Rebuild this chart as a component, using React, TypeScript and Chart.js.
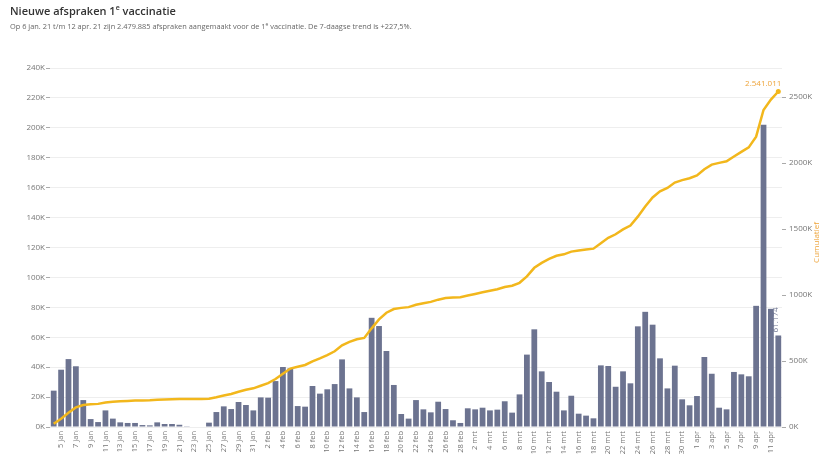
import React, { useEffect, useRef } from "react";
import { Chart, registerables } from "chart.js";

Chart.register(...registerables);

// ---- data ----
const categories: string[] = [
  "4 jan", "5 jan", "6 jan", "7 jan", "8 jan", "9 jan", "10 jan", "11 jan", "12 jan", "13 jan",
  "14 jan", "15 jan", "16 jan", "17 jan", "18 jan", "19 jan", "20 jan", "21 jan", "22 jan", "23 jan",
  "24 jan", "25 jan", "26 jan", "27 jan", "28 jan", "29 jan", "30 jan", "31 jan",
  "1 feb", "2 feb", "3 feb", "4 feb", "5 feb", "6 feb", "7 feb", "8 feb", "9 feb", "10 feb",
  "11 feb", "12 feb", "13 feb", "14 feb", "15 feb", "16 feb", "17 feb", "18 feb", "19 feb", "20 feb",
  "21 feb", "22 feb", "23 feb", "24 feb", "25 feb", "26 feb", "27 feb", "28 feb",
  "1 mrt", "2 mrt", "3 mrt", "4 mrt", "5 mrt", "6 mrt", "7 mrt", "8 mrt", "9 mrt", "10 mrt",
  "11 mrt", "12 mrt", "13 mrt", "14 mrt", "15 mrt", "16 mrt", "17 mrt", "18 mrt", "19 mrt", "20 mrt",
  "21 mrt", "22 mrt", "23 mrt", "24 mrt", "25 mrt", "26 mrt", "27 mrt", "28 mrt", "29 mrt", "30 mrt",
  "31 mrt",
  "1 apr", "2 apr", "3 apr", "4 apr", "5 apr", "6 apr", "7 apr", "8 apr", "9 apr", "10 apr",
  "11 apr", "12 apr",
];

// new appointments per day, in thousands
const dailyK: number[] = [
  24.3, 38.3, 45.4, 40.6, 18.0, 5.3, 3.3, 11.1, 5.6, 3.1,
  2.7, 2.7, 1.3, 1.1, 3.1, 2.0, 2.0, 1.5, 0.5, 0,
  0, 2.9, 10.0, 13.8, 12.0, 16.7, 14.7, 11.1,
  19.8, 19.6, 30.7, 40.1, 39.2, 14.0, 13.6, 27.4, 22.3, 25.2,
  28.7, 45.2, 25.8, 19.8, 10.0, 73.0, 67.5, 50.8, 28.1, 8.7,
  5.6, 18.0, 11.8, 9.8, 16.9, 12.0, 4.5, 2.7,
  12.5, 11.8, 12.9, 11.1, 11.6, 17.2, 9.6, 21.8, 48.4, 65.3,
  37.2, 30.1, 23.6, 11.1, 20.9, 8.9, 7.6, 5.8, 41.2, 40.8,
  26.9, 37.2, 29.2, 67.3, 77.0, 68.4, 45.9, 25.8, 41.0, 18.5,
  14.5,
  20.7, 46.8, 35.6, 12.9, 11.8, 36.8, 35.2, 33.9, 81.0, 202.0,
  79.0, 61.174,
];

// cumulative appointments (running total of the daily values), in thousands
const cumulativeK: number[] = dailyK.reduce<number[]>((acc, v) => {
  acc.push((acc.length ? acc[acc.length - 1] : 0) + v);
  return acc;
}, []);

const leftMaxK = 240;
const leftStepK = 20;
const rightMaxK = 2720;
const rightTicksK: number[] = [0, 500, 1000, 1500, 2000, 2500];

const titleText = "Nieuwe afspraken 1";
const subtitleText =
  "Op 6 jan. 21 t/m 12 apr. 21 zijn 2.479.885 afspraken aangemaakt voor de 1";
const subtitleTail = " vaccinatie. De 7-daagse trend is +227,5%.";
const finalLabel = "2.541.011";
const lastBarLabel = "61.174";
const rightAxisTitle = "Cumulatief";

// ---- styles ----
const FONT = '"Open Sans", "Noto Sans", sans-serif';
const BAR_COLOR = "#6c7390";
const LINE_COLOR = "#f2b71c";
const ORANGE = "#eea43a";
const TICK_COLOR = "#777";

const annotatePlugin = {
  id: "annotate",
  afterDatasetsDraw(chart: any) {
    const ctx = chart.ctx as CanvasRenderingContext2D;
    const barMeta = chart.getDatasetMeta(0);
    const lineMeta = chart.getDatasetMeta(1);
    const lp = lineMeta.data[lineMeta.data.length - 1];
    const bp = barMeta.data[barMeta.data.length - 1];
    ctx.save();
    ctx.font = `8px ${FONT}`;
    ctx.fillStyle = ORANGE;
    ctx.textAlign = "right";
    ctx.textBaseline = "bottom";
    ctx.fillText(finalLabel, lp.x + 3, lp.y - 4);
    ctx.restore();

    ctx.save();
    ctx.font = `8px ${FONT}`;
    ctx.fillStyle = BAR_COLOR;
    ctx.translate(bp.x - 3, bp.y - 3);
    ctx.rotate(-Math.PI / 2);
    ctx.textAlign = "left";
    ctx.textBaseline = "middle";
    ctx.fillText(lastBarLabel, 0, 0);
    ctx.restore();

    const area = chart.chartArea;
    ctx.save();
    ctx.font = `8px ${FONT}`;
    ctx.fillStyle = ORANGE;
    ctx.translate(817, (area.top + area.bottom) / 2 - 5);
    ctx.rotate(-Math.PI / 2);
    ctx.textAlign = "center";
    ctx.textBaseline = "middle";
    ctx.fillText(rightAxisTitle, 0, 0);
    ctx.restore();
  },
};

export default function App() {
  const canvasRef = useRef<HTMLCanvasElement | null>(null);

  useEffect(() => {
    document.body.style.margin = "0";
    const canvas = canvasRef.current;
    if (!canvas) return;
    const chart = new Chart(canvas, {
      type: "bar",
      data: {
        labels: categories,
        datasets: [
          {
            type: "bar",
            label: "Nieuwe afspraken",
            data: dailyK,
            backgroundColor: BAR_COLOR,
            barPercentage: 0.78,
            categoryPercentage: 1.0,
            yAxisID: "y",
            order: 2,
          },
          {
            type: "line",
            label: "Cumulatief",
            data: cumulativeK,
            borderColor: LINE_COLOR,
            backgroundColor: LINE_COLOR,
            borderWidth: 2.5,
            tension: 0,
            pointRadius: (c: any) => (c.dataIndex === cumulativeK.length - 1 ? 2.5 : 0),
            pointBorderWidth: 0,
            yAxisID: "y1",
            order: 1,
          },
        ] as any,
      },
      options: {
        responsive: false,
        animation: false,
        devicePixelRatio: 1,
        layout: { padding: { top: 68, left: 0, right: 0, bottom: 0 } },
        plugins: {
          legend: { display: false },
          tooltip: { enabled: false },
        },
        scales: {
          x: {
            type: "category",
            offset: true,
            grid: { display: false, drawTicks: false },
            border: { display: false },
            ticks: {
              autoSkip: false,
              minRotation: 90,
              maxRotation: 90,
              padding: 4,
              color: TICK_COLOR,
              font: { family: FONT, size: 7.5 },
              callback: (_v: any, i: number) => (i % 2 === 1 ? categories[i] : ""),
            },
            afterFit: (s: any) => {
              s.height = 33;
            },
          },
          y: {
            position: "left",
            min: 0,
            max: leftMaxK,
            border: { display: false },
            grid: { color: "#eeeeee", tickColor: "#aaa", tickLength: 4, lineWidth: 1 },
            ticks: {
              stepSize: leftStepK,
              padding: 1,
              color: TICK_COLOR,
              font: { family: FONT, size: 8 },
              callback: (v: any) => `${v}K`,
            },
            afterFit: (s: any) => {
              s.width = 50;
            },
          },
          y1: {
            position: "right",
            min: 0,
            max: rightMaxK,
            border: { display: false },
            grid: { drawOnChartArea: false, tickColor: "#aaa", tickLength: 4 },
            afterBuildTicks: (s: any) => {
              s.ticks = rightTicksK.map((value) => ({ value }));
            },
            ticks: {
              autoSkip: false,
              padding: 3,
              color: TICK_COLOR,
              font: { family: FONT, size: 8 },
              callback: (v: any) => `${v}K`,
            },
            afterFit: (s: any) => {
              s.width = 43;
            },
          },
        },
      } as any,
      plugins: [annotatePlugin],
    });
    return () => chart.destroy();
  }, []);

  return (
    <div style={{ position: "relative", width: 825, height: 460, background: "#fff", overflow: "hidden" }}>
      <canvas ref={canvasRef} width={825} height={460} style={{ position: "absolute", left: 0, top: 0 }} />
      <div
        style={{
          position: "absolute",
          left: 10,
          top: 3,
          fontFamily: FONT,
          fontSize: 11,
          fontWeight: 600,
          color: "#333",
          whiteSpace: "nowrap",
        }}
      >
        {titleText}
        <sup style={{ fontSize: 7 }}>e</sup> vaccinatie
      </div>
      <div
        style={{
          position: "absolute",
          left: 10,
          top: 21,
          fontFamily: FONT,
          fontSize: 7.4,
          color: "#666",
          whiteSpace: "nowrap",
        }}
      >
        {subtitleText}
        <sup style={{ fontSize: 5 }}>e</sup>
        {subtitleTail}
      </div>
    </div>
  );
}
